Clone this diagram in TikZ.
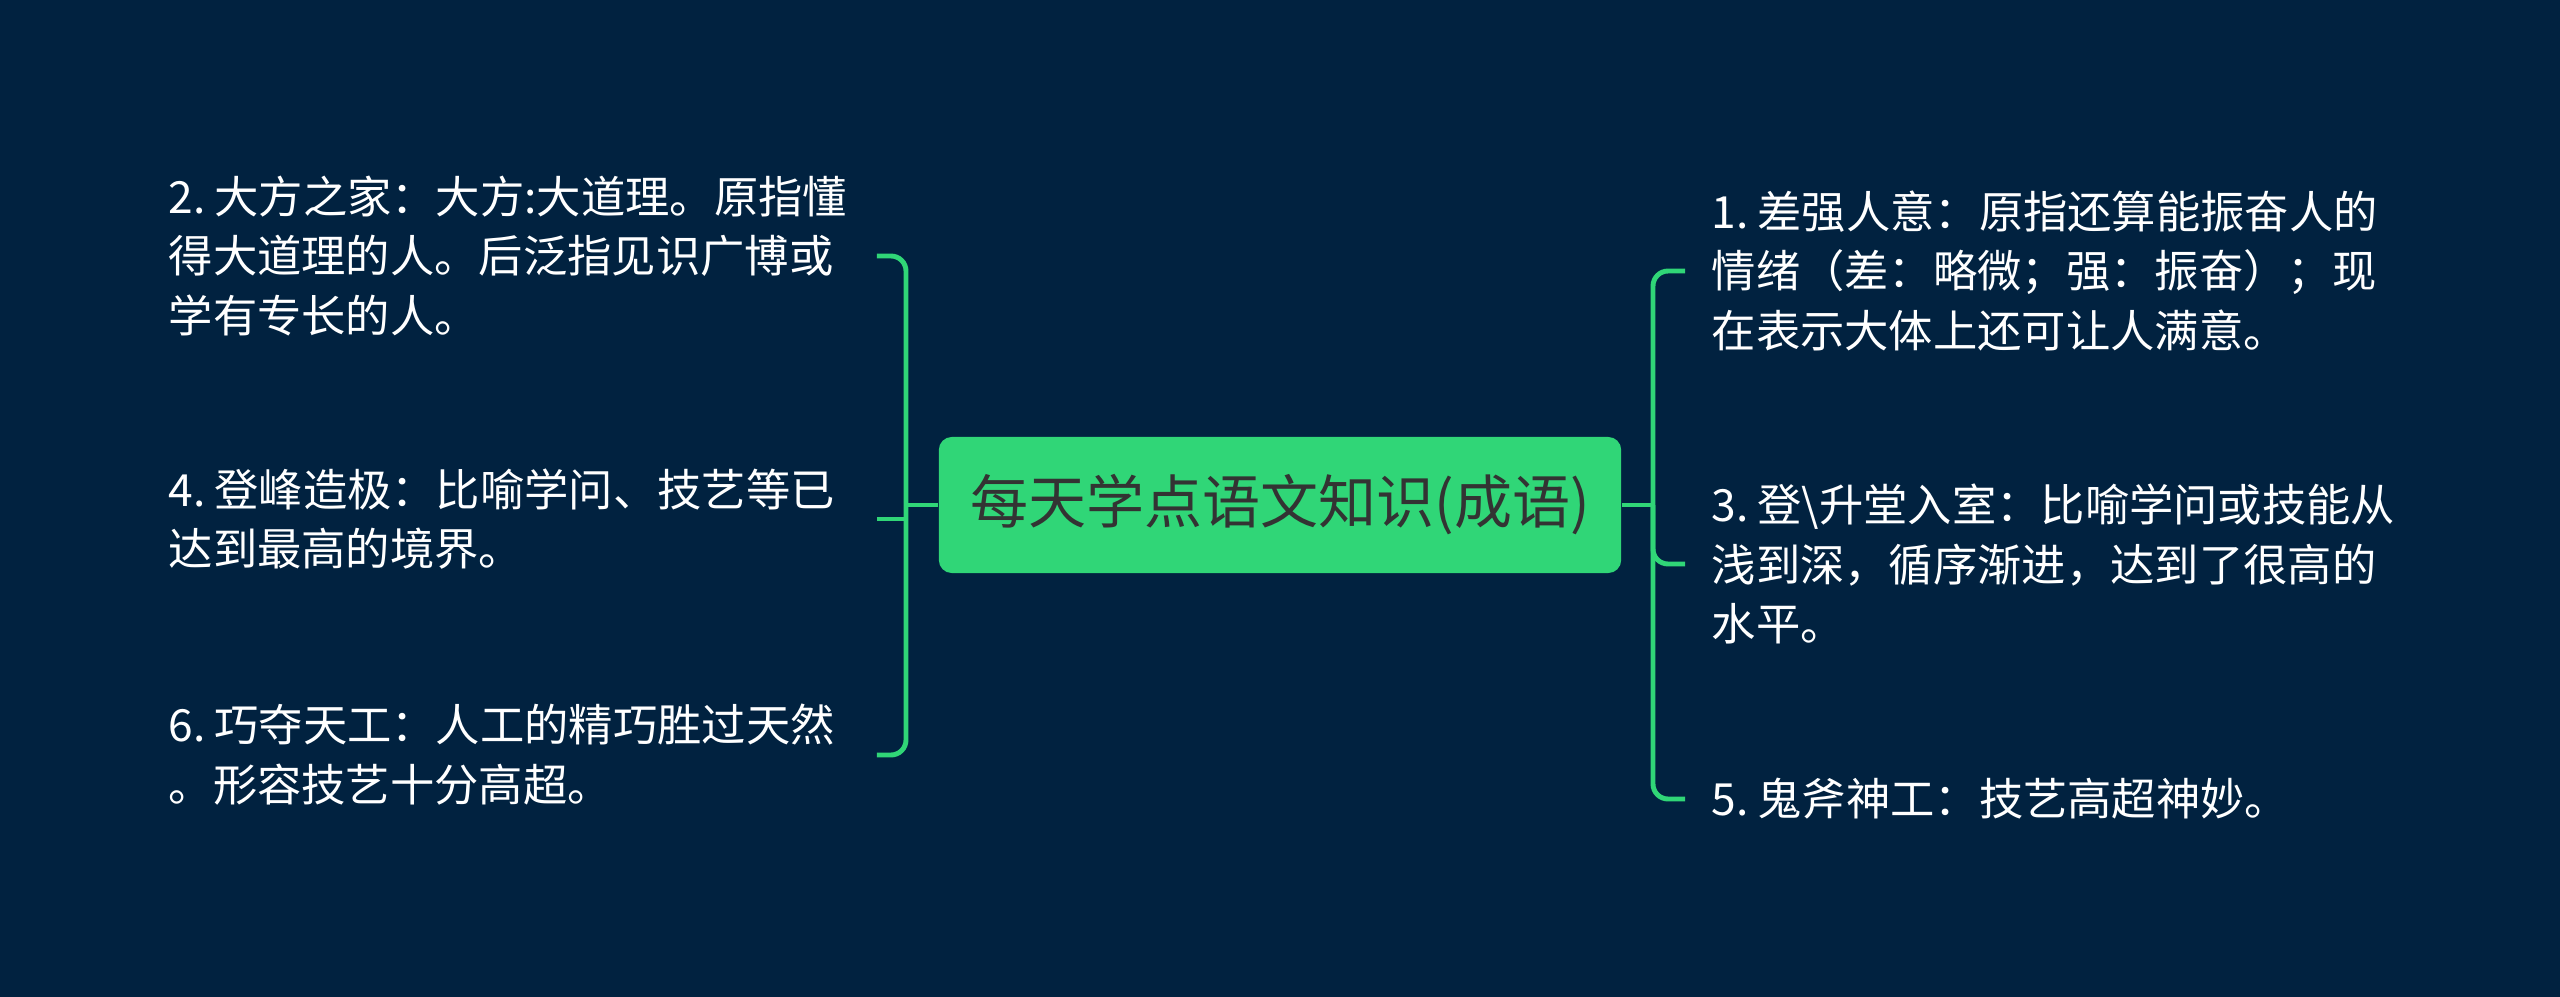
\documentclass[tikz,border=0pt]{standalone}
\usepackage{fontspec}
\newfontfamily\cjk{Noto Sans CJK SC}
\usepackage{xcolor}
\definecolor{NavyBg}{HTML}{012240}
\definecolor{MindGreen}{HTML}{30D677}
\definecolor{RootText}{HTML}{333333}
\usepackage{tikz}
\usetikzlibrary{positioning}

\newcommand\numsep{\kern.2em}

\begin{document}
\begin{tikzpicture}[x=0.01cm, y=-0.01cm,
  every node/.style={font=\cjk\fontsize{12.6pt}{17pt}\selectfont, text=white, align=left},
  leftleaf/.style={anchor=west, inner xsep=0.2cm, inner ysep=0pt, text width=6.87cm},
  rightleaf/.style={anchor=west, inner xsep=0.26cm, inner ysep=0pt, text width=7.2cm},
  branch/.style={draw=MindGreen, line width=1.4pt, rounded corners=0.15cm}]
  \fill[NavyBg] (0,0) rectangle (2560,997);
  \useasboundingbox (0,0) rectangle (2560,997);
  \node[fill=MindGreen, rounded corners=0.13cm, minimum width=6.82cm, minimum height=1.36cm,
    text=RootText, align=center, font=\cjk\fontsize{16.5pt}{20pt}\selectfont] (root) at (1280,505) {每天学点语文知识(成语)};
  % left side
  \node[leftleaf] (n2) at (148,256) {2.\numsep 大方之家：大方:大道理。原指懂\\得大道理的人。后泛指见识广博或\\学有专长的人。};
  \node[leftleaf] (n4) at (148,519) {4.\numsep 登峰造极：比喻学问、技艺等已\\达到最高的境界。};
  \node[leftleaf] (n6) at (148,755) {6.\numsep 巧夺天工：人工的精巧胜过天然\\。形容技艺十分高超。};
  % right side
  \node[rightleaf] (n1) at (1685,271) {1.\numsep 差强人意：原指还算能振奋人的\\情绪（差：略微；强：振奋）；现\\在表示大体上还可让人满意。};
  \node[rightleaf] (n3) at (1685,564) {3.\numsep 登\textbackslash 升堂入室：比喻学问或技能从\\浅到深，循序渐进，达到了很高的\\水平。};
  \node[rightleaf] (n5) at (1685,799) {5.\numsep 鬼斧神工：技艺高超神妙。};
  \coordinate (lj) at (906,505);
  \coordinate (rj) at (1653,505);
  \draw[branch] (n2.east) -| (lj) |- (n6.east);
  \draw[branch] (n4.east) -- (n4.east -| lj);
  \draw[branch] (root.west) -- (lj);
  \draw[branch] (n1.west) -| (rj) |- (n5.west);
  \draw[branch] (n3.west) -| (rj);
  \draw[branch] (root.east) -- (rj);
\end{tikzpicture}
\end{document}
